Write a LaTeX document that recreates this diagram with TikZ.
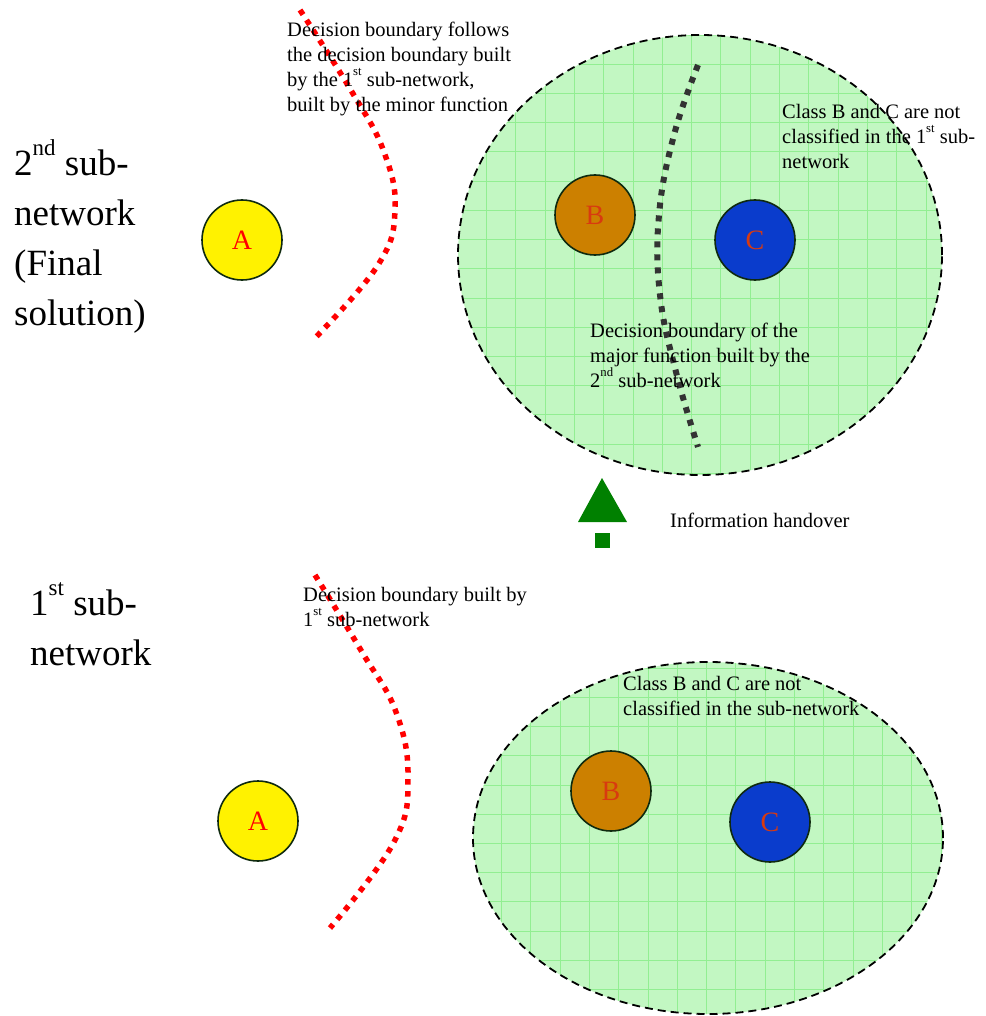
\documentclass[tikz,border=0pt]{standalone}
\usepackage{fontspec}
\usepackage{graphicx}
\setmainfont{Liberation Serif}
\definecolor{regionfill}{HTML}{C2F7C2}
\definecolor{gridgreen}{HTML}{92EE92}
\definecolor{classB}{HTML}{CC8000}
\definecolor{classC}{HTML}{0A3CCC}
\definecolor{letterred}{HTML}{D83A10}
\definecolor{rim}{HTML}{0F2A0F}
\definecolor{handover}{HTML}{008000}
\definecolor{majorline}{HTML}{333333}
% small raised ordinal suffix
\newcommand{\ordsuf}[1]{\raisebox{0.55em}{\scalebox{0.62}{#1}}}
\begin{document}
\begin{tikzpicture}[x=1pt,y=-1pt,
  regionborder/.style={draw=black, line width=1.8pt, dash pattern=on 8pt off 5pt},
  gridlines/.style={draw=gridgreen, line width=0.6pt},
  cls/.style={circle, draw=rim, line width=1.6pt, minimum size=80pt, inner sep=0pt,
              font=\fontsize{28}{32}\selectfont},
  minorbound/.style={draw=red, line width=5.5pt, dash pattern=on 5.5pt off 6.5pt},
  majorbound/.style={draw=majorline, line width=6pt, dash pattern=on 6pt off 7pt},
  lbl/.style={anchor=north west, inner sep=0pt, align=left,
              font=\fontsize{20.5}{25}\selectfont},
  biglbl/.style={anchor=north west, inner sep=0pt, align=left,
              font=\fontsize{37}{50}\selectfont}]
\useasboundingbox (0,0) rectangle (985,1016);

% ---- upper region (2nd sub-network) ----
\fill[regionfill] (700,255) ellipse [x radius=242pt, y radius=220pt];
\begin{scope}
  \clip (700,255) ellipse [x radius=242pt, y radius=220pt];
  \foreach \gx in {0,...,17} \draw[gridlines] (457+29.3*\gx,30) -- (457+29.3*\gx,480);
  \foreach \gy in {0,...,15} \draw[gridlines] (450,35+29.2*\gy) -- (950,35+29.2*\gy);
\end{scope}
\draw[regionborder] (700,255) ellipse [x radius=242pt, y radius=220pt];

% ---- lower region (1st sub-network) ----
\fill[regionfill] (708,838) ellipse [x radius=235pt, y radius=176pt];
\begin{scope}
  \clip (708,838) ellipse [x radius=235pt, y radius=176pt];
  \foreach \gx in {0,...,17} \draw[gridlines] (472+29.3*\gx,655) -- (472+29.3*\gx,1020);
  \foreach \gy in {0,...,13} \draw[gridlines] (465,668+29.2*\gy) -- (950,668+29.2*\gy);
\end{scope}
\draw[regionborder] (708,838) ellipse [x radius=235pt, y radius=176pt];

% ---- class circles ----
\node[cls, fill=yellow, text=red] (a2) at (242,240) {A};
\node[cls, fill=classB, text=letterred] (b2) at (595,215) {B};
\node[cls, fill=classC, text=letterred] (c2) at (755,240) {C};
\node[cls, fill=yellow, text=red] (a1) at (258,821) {A};
\node[cls, fill=classB, text=letterred] (b1) at (611,791) {B};
\node[cls, fill=classC, text=letterred] (c1) at (770,822) {C};

% ---- decision boundaries ----
\draw[minorbound] plot[smooth, tension=0.7] coordinates
  {(300,10) (352,92) (384,152) (395,210) (378,265) (315,338)};
\draw[minorbound] plot[smooth, tension=0.7] coordinates
  {(315,575) (362,652) (396,712) (408,778) (394,842) (330,928)};
\draw[majorbound] plot[smooth, tension=0.7] coordinates
  {(698,65) (674,135) (659,215) (660,295) (676,372) (698,447)};

% ---- information handover arrow ----
\fill[handover] (602,478) -- (627,522) -- (578,522) -- cycle;
\fill[handover] (595,533) rectangle (610,548);

% ---- labels ----
\node[biglbl] (t2) at (14,139) {2\ordsuf{nd} sub-\\network\\(Final\\solution)};
\node[biglbl] (t1) at (30,582) {1\ordsuf{st} sub-\\network};

\node[lbl] (n1) at (287,22) {Decision boundary follows\\the decision boundary built\\by the 1\ordsuf{st} sub-network,\\built by the minor function};
\node[lbl] (n2) at (782,104) {Class B and C are not\\classified in the 1\ordsuf{st} sub-\\network};
\node[lbl] (n3) at (590,323) {Decision boundary of the\\major function built by the\\2\ordsuf{nd} sub-network};
\node[lbl] (n4) at (670,513) {Information handover};
\node[lbl] (n5) at (303,587) {Decision boundary built by\\1\ordsuf{st} sub-network};
\node[lbl] (n6) at (623,676) {Class B and C are not\\classified in the sub-network};
\end{tikzpicture}
\end{document}
